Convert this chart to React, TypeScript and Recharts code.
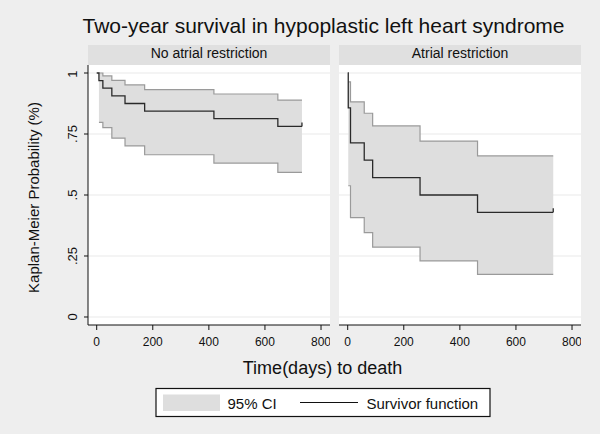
import React from "react";
import { ComposedChart, Area, Line, XAxis, YAxis, CartesianGrid } from "recharts";

// No atrial restriction
const noRestrTime = [0, 8, 22, 54, 101, 171, 418, 646, 732];
const noRestrSurv = [1, 0.969, 0.938, 0.906, 0.875, 0.844, 0.813, 0.781, 0.781];
const noRestrCiTime = [8, 22, 54, 101, 171, 418, 646, 732];
const noRestrUpper = [1.0, 0.988, 0.97, 0.951, 0.932, 0.914, 0.889, 0.889];
const noRestrLower = [0.798, 0.776, 0.733, 0.701, 0.665, 0.631, 0.593, 0.593];

// Atrial restriction
const restrTime = [0, 2, 10, 59, 89, 258, 463, 733];
const restrSurv = [1, 0.857, 0.714, 0.643, 0.571, 0.5, 0.429, 0.429];
const restrCiTime = [2, 10, 59, 89, 258, 463, 733];
const restrUpper = [0.964, 0.882, 0.835, 0.783, 0.721, 0.66, 0.66];
const restrLower = [0.538, 0.407, 0.346, 0.286, 0.23, 0.175, 0.175];

const xTicks = [0, 200, 400, 600, 800];
const yTicks = [0, 0.25, 0.5, 0.75, 1];
const yTickLabels = ["0", ".25", ".5", ".75", "1"];

const FONT = '"Liberation Sans", Arial, sans-serif';
const X_DOMAIN = [-31, 832];
const Y_DOMAIN = [-0.0328, 1.0328];

function survRows(time: number[], surv: number[]) {
    return time.map((t, i) => ({ t, s: surv[i] }));
}

function ciRows(time: number[], lo: number[], hi: number[]) {
    return time.map((t, i) => ({ t, range: [lo[i], hi[i]], lo: lo[i], hi: hi[i] }));
}

function YTick(props: any) {
    const { x, y, payload } = props;
    const idx = yTicks.indexOf(payload.value);
    return (
        <text
            x={x}
            y={y}
            transform={`rotate(-90 ${x} ${y})`}
            textAnchor="middle"
            fontSize={13}
            fontFamily={FONT}
            fill="#111"
        >
            {idx >= 0 ? yTickLabels[idx] : payload.value}
        </text>
    );
}

function Panel({
    survData,
    ciData,
    showY,
    width,
}: {
    survData: { t: number; s: number }[];
    ciData: any[];
    showY: boolean;
    width: number;
}) {
    const last = survData.length - 1;
    return (
        <ComposedChart width={width} height={285} margin={{ top: 0, right: 0, bottom: 0, left: 0 }}>
            <CartesianGrid
                vertical={false}
                stroke="#e9e9e9"
                fill="#ffffff"
                horizontalValues={yTicks}
            />
            <XAxis
                dataKey="t"
                type="number"
                domain={X_DOMAIN}
                allowDataOverflow
                ticks={xTicks}
                height={25}
                tickSize={5}
                tickMargin={7}
                stroke="#111"
                tick={{ fontSize: 12, fontFamily: FONT, fill: "#111" }}
            />
            <YAxis
                type="number"
                domain={Y_DOMAIN}
                allowDataOverflow
                ticks={yTicks}
                width={showY ? 88 : 0}
                hide={!showY}
                tickSize={4}
                tickMargin={7}
                stroke="#111"
                tick={<YTick />}
            />
            <Area
                data={ciData}
                dataKey="range"
                type="stepAfter"
                fill="#dedede"
                fillOpacity={1}
                stroke="none"
                isAnimationActive={false}
            />
            <Line
                data={ciData}
                dataKey="hi"
                type="stepAfter"
                stroke="#9a9a9a"
                strokeWidth={1.2}
                dot={false}
                isAnimationActive={false}
            />
            <Line
                data={ciData}
                dataKey="lo"
                type="stepAfter"
                stroke="#9a9a9a"
                strokeWidth={1.2}
                dot={false}
                isAnimationActive={false}
            />
            <Line
                data={survData}
                dataKey="s"
                type="stepAfter"
                stroke="#2a2a2a"
                strokeWidth={1.3}
                isAnimationActive={false}
                dot={(p: any) =>
                    p.index === last ? (
                        <line key="end" x1={p.cx} y1={p.cy} x2={p.cx} y2={p.cy - 4} stroke="#2a2a2a" strokeWidth={1.3} />
                    ) : (
                        <g key={p.index} />
                    )
                }
            />
        </ComposedChart>
    );
}

export default function App() {
    return (
        <div
            style={{
                position: "absolute",
                left: 0,
                top: 0,
                width: 600,
                height: 434,
                background: "#eeeeee",
                fontFamily: FONT,
                overflow: "hidden",
            }}
        >
            <svg width={600} height={434} style={{ position: "absolute", left: 0, top: 0 }}>
                <text x={323.5} y={32.5} textAnchor="middle" fontSize={21} fill="#111">
                    Two-year survival in hypoplastic left heart syndrome
                </text>
                <rect x={88} y={45} width={242} height={20} fill="#e0e0e0" />
                <rect x={339} y={45} width={242} height={20} fill="#e0e0e0" />
                <text x={209} y={58.3} textAnchor="middle" fontSize={14} fill="#111">
                    No atrial restriction
                </text>
                <text x={460} y={58.3} textAnchor="middle" fontSize={14} fill="#111">
                    Atrial restriction
                </text>
                <text
                    x={39}
                    y={197.5}
                    transform="rotate(-90 39 197.5)"
                    textAnchor="middle"
                    fontSize={15}
                    fill="#111"
                >
                    Kaplan-Meier Probability (%)
                </text>
                <text x={322.5} y={374.3} textAnchor="middle" fontSize={18} fill="#111">
                    Time(days) to death
                </text>
                <rect x={156} y={388.5} width={334} height={28} fill="#ffffff" stroke="#111" strokeWidth={1.2} />
                <rect x={163} y={394.5} width={57} height={16.5} fill="#dedede" />
                <text x={227.5} y={409} fontSize={15} fill="#111">
                    95% CI
                </text>
                <line x1={300} y1={402.5} x2={358} y2={402.5} stroke="#111" strokeWidth={1} />
                <text x={366.5} y={409} fontSize={15} fill="#111">
                    Survivor function
                </text>
            </svg>
            <div style={{ position: "absolute", left: 0, top: 65 }}>
                <Panel
                    width={330}
                    showY
                    survData={survRows(noRestrTime, noRestrSurv)}
                    ciData={ciRows(noRestrCiTime, noRestrLower, noRestrUpper)}
                />
            </div>
            <div style={{ position: "absolute", left: 339, top: 65 }}>
                <Panel
                    width={242}
                    showY={false}
                    survData={survRows(restrTime, restrSurv)}
                    ciData={ciRows(restrCiTime, restrLower, restrUpper)}
                />
            </div>
        </div>
    );
}
